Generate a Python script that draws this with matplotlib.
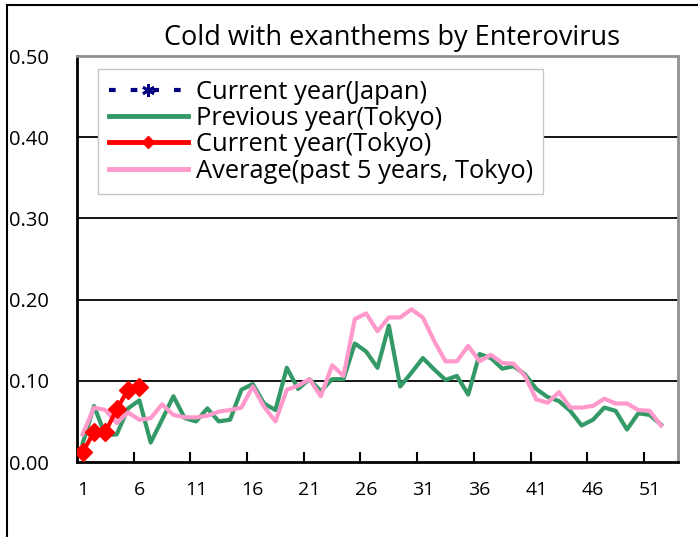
import matplotlib
matplotlib.use("Agg")
import matplotlib.pyplot as plt
from matplotlib.lines import Line2D
import matplotlib.transforms as mtransforms
import numpy as np

plt.rcParams['font.family'] = ['Open Sans', 'DejaVu Sans']

weeks = list(range(1, 53))

prev_tokyo = [0.023, 0.069, 0.033, 0.034, 0.066, 0.076, 0.024, 0.052, 0.081, 0.054,
              0.050, 0.066, 0.050, 0.052, 0.089, 0.096, 0.072, 0.064, 0.116, 0.090,
              0.102, 0.087, 0.102, 0.102, 0.146, 0.136, 0.116, 0.168, 0.093, 0.110,
              0.128, 0.114, 0.101, 0.106, 0.083, 0.133, 0.128, 0.115, 0.118, 0.108,
              0.090, 0.080, 0.075, 0.063, 0.045, 0.052, 0.067, 0.063, 0.040, 0.060,
              0.058, 0.046]

avg_tokyo = [0.034, 0.067, 0.064, 0.048, 0.061, 0.052, 0.054, 0.071, 0.058, 0.055,
             0.055, 0.057, 0.062, 0.064, 0.067, 0.093, 0.068, 0.050, 0.089, 0.094,
             0.102, 0.081, 0.119, 0.106, 0.176, 0.183, 0.161, 0.178, 0.178, 0.188,
             0.178, 0.149, 0.124, 0.124, 0.143, 0.124, 0.132, 0.122, 0.121, 0.106,
             0.077, 0.073, 0.086, 0.067, 0.067, 0.069, 0.078, 0.072, 0.072, 0.064,
             0.063, 0.045]

cur_weeks = [1, 2, 3, 4, 5, 6]
cur_tokyo = [0.012, 0.037, 0.037, 0.065, 0.089, 0.092]

cur_japan_weeks = []
cur_japan = []

x_labels = [1, 6, 11, 16, 21, 26, 31, 36, 41, 46, 51]
y_ticks = [0.0, 0.1, 0.2, 0.3, 0.4, 0.5]

fig = plt.figure(figsize=(6.98, 5.37), dpi=100)
ax = fig.add_axes([77/698, (537-462)/537, (678-77)/698, (462-56)/537])

ax.set_xlim(0.5, 53.5)
ax.set_ylim(0, 0.5)

for yv in y_ticks[1:-1]:
    ax.axhline(yv, color='black', lw=1.3, zorder=1)

ax.plot(cur_japan_weeks, cur_japan, color='#000080', lw=3, ls=(0, (1.6, 3.6)),
        marker=(6, 2, 0), ms=9, mew=2, zorder=2)
ax.plot(weeks, prev_tokyo, color='#339966', lw=3, zorder=3)
ax.plot(weeks, avg_tokyo, color='#FF99CC', lw=3, zorder=4)
ax.plot(cur_weeks, cur_tokyo, color='#FF0000', lw=3, marker='D', ms=9, zorder=5)

ax.set_xticks(x_labels)
ax.set_xticklabels([str(v) for v in x_labels], fontsize=14)
ax.tick_params(axis='x', which='major', length=0, pad=14)
ax.set_xticks(np.arange(5.5, 53, 5), minor=True)
ax.tick_params(axis='x', which='minor', direction='in', length=7, width=1.5, color='black')

ax.set_yticks(y_ticks)
ax.set_yticklabels(['%.2f' % v for v in y_ticks], fontsize=14.5)
ax.tick_params(axis='y', length=0, pad=0)
for lbl in ax.get_yticklabels():
    lbl.set_horizontalalignment('left')
    lbl.set_transform(mtransforms.blended_transform_factory(fig.transFigure, ax.transData))
    lbl.set_x(9/698)

for s in ['left', 'bottom']:
    ax.spines[s].set_color('black')
    ax.spines[s].set_linewidth(2)
for s in ['top', 'right']:
    ax.spines[s].set_color('#909090')
    ax.spines[s].set_linewidth(2)

fig.text(392/698, 1-38/537, 'Cold with exanthems by Enterovirus', fontsize=19.5,
         ha='center', va='center')

handles = [
    Line2D([], [], color='#000080', lw=3, ls=(0, (1.6, 3.6)), marker=(6, 2, 0), ms=9, mew=2),
    Line2D([], [], color='#339966', lw=3.5),
    Line2D([], [], color='#FF0000', lw=3.5, marker='D', ms=6),
    Line2D([], [], color='#FF99CC', lw=3.5),
]
labels = ['Current year(Japan)', 'Previous year(Tokyo)', 'Current year(Tokyo)',
          'Average(past 5 years, Tokyo)']
leg = ax.legend(handles, labels, loc='upper left', bbox_to_anchor=(21/601, (462-69)/406),
                borderaxespad=0, fontsize=18.4, handlelength=3.1, handletextpad=0.3,
                labelspacing=0.05, borderpad=0.42, fancybox=False, framealpha=1,
                edgecolor='#C8C8C8')
leg.get_frame().set_linewidth(1)

# outer chart border (left and top)
fig.add_artist(Line2D([7/698, 7/698], [0, 1-5/537], color='black', lw=1.5,
                      transform=fig.transFigure))
fig.add_artist(Line2D([7/698, 1], [1-5/537, 1-5/537], color='black', lw=1.5,
                      transform=fig.transFigure))

fig.savefig('out.png', dpi=100)
